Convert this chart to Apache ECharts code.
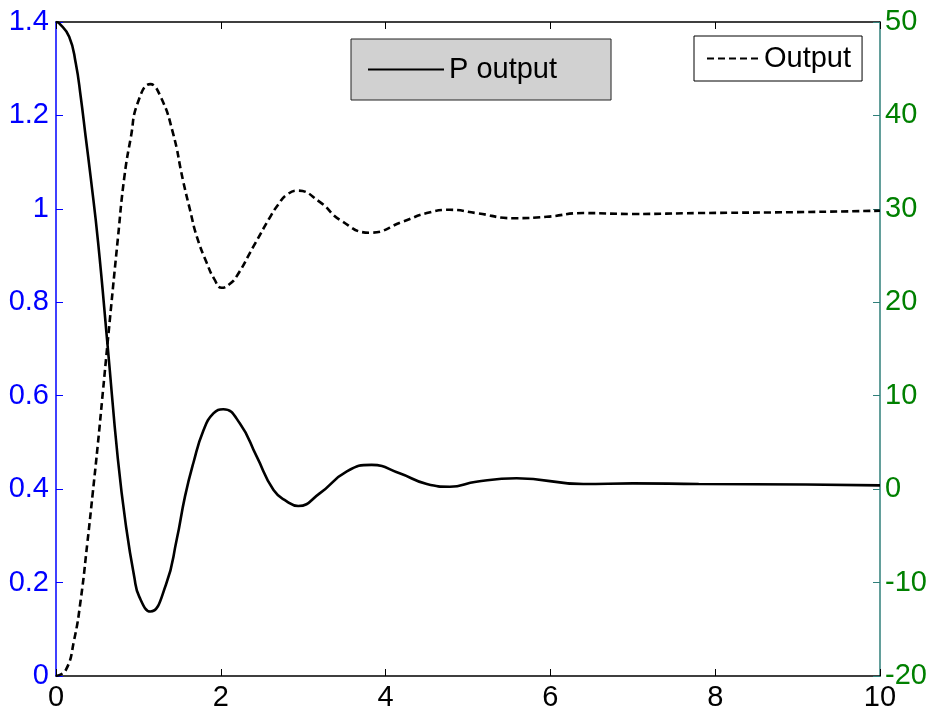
<!DOCTYPE html>
<html>
<head>
<meta charset="utf-8">
<script src="https://cdn.jsdelivr.net/npm/echarts@6/dist/echarts.min.js"></script>
<style>
  html, body { margin: 0; padding: 0; background: #fff; }
  #main { width: 932px; height: 715px; }
</style>
</head>
<body>
<div id="main"></div>
<script>
// time (s) and values
var outputTime = [0, 0.12, 0.22, 0.30, 0.38, 0.445, 0.51, 0.57, 0.63, 0.75, 0.83, 0.91, 0.99, 1.145, 1.27, 1.42, 1.54, 1.626, 1.71, 1.83, 1.92, 2.01, 2.10, 2.19, 2.395, 2.60, 2.70, 2.80, 2.93, 3.20, 3.45, 3.81, 4.215, 4.50, 4.78, 5.10, 5.55, 5.955, 6.40, 7.0, 7.8, 9.0, 10];
var outputVal  = [0, 0.013, 0.077, 0.163, 0.284, 0.39, 0.50, 0.61, 0.72, 0.935, 1.069, 1.155, 1.226, 1.267, 1.240, 1.162, 1.062, 0.998, 0.940, 0.884, 0.850, 0.831, 0.838, 0.855, 0.919, 0.983, 1.010, 1.030, 1.039, 1.015, 0.976, 0.949, 0.973, 0.991, 0.998, 0.991, 0.980, 0.983, 0.991, 0.989, 0.991, 0.993, 0.996];

var pTime = [0, 0.04, 0.16, 0.24, 0.30, 0.36, 0.42, 0.51, 0.63, 0.75, 0.85, 0.95, 1.01, 1.145, 1.335, 1.465, 1.565, 1.667, 1.79, 1.91, 2.03, 2.23, 2.435, 2.64, 2.80, 2.94, 3.20, 3.53, 3.83, 4.17, 4.50, 4.78, 5.10, 5.59, 6.40, 7.0, 7.8, 9.1, 10];
var pVal  = [50, 49.86, 48.43, 45.58, 42.0, 37.72, 33.44, 26.5, 15.0, 3.3, -4.0, -9.4, -11.5, -13.1, -10.2, -5.4, -0.8, 2.8, 6.3, 8.1, 8.55, 7.05, 3.5, -0.1, -1.3, -1.8, -0.45, 1.9, 2.6, 1.7, 0.55, 0.26, 0.8, 1.16, 0.55, 0.62, 0.55, 0.5, 0.4];

var leftTicks  = { min: 0, max: 1.4, interval: 0.2 };
var rightTicks = { min: -20, max: 50, interval: 10 };
var xTicks     = { min: 0, max: 10, interval: 2 };

function pairs(xs, ys) {
    return xs.map(function (x, i) { return [x, ys[i]]; });
}

var font = 'Liberation Sans, Arial, sans-serif';
var chart = echarts.init(document.getElementById('main'));

var option = {
    backgroundColor: '#fff',
    animation: false,
    grid: { left: 56, right: 52, top: 22, bottom: 39 },
    legend: [
        {
            data: ['P output'],
            left: 351, top: 39,
            padding: [16, 54, 16, 16],
            backgroundColor: '#d1d1d1',
            borderColor: '#222', borderWidth: 1,
            itemWidth: 76, itemHeight: 14,
            itemStyle: { opacity: 0 },
            textStyle: { fontFamily: font, fontSize: 29, color: '#000', lineHeight: 29 }
        },
        {
            data: ['Output'],
            left: 694, top: 36,
            padding: [8, 11, 8, 12],
            backgroundColor: '#fff',
            borderColor: '#000', borderWidth: 1,
            itemWidth: 52, itemHeight: 14,
            itemStyle: { opacity: 0 },
            textStyle: { fontFamily: font, fontSize: 29, color: '#000', lineHeight: 29 }
        }
    ],
    xAxis: [
        {
            type: 'value', position: 'bottom',
            min: xTicks.min, max: xTicks.max, interval: xTicks.interval,
            axisLine: { onZero: false, lineStyle: { color: '#000', width: 1.5 } },
            axisTick: { inside: true, length: 7, lineStyle: { color: '#000' } },
            axisLabel: { fontFamily: font, fontSize: 29, color: '#000', margin: 7 },
            splitLine: { show: false }
        },
        {
            type: 'value', position: 'top',
            min: xTicks.min, max: xTicks.max, interval: xTicks.interval,
            axisLine: { onZero: false, lineStyle: { color: '#000', width: 1.5 } },
            axisTick: { inside: true, length: 7, lineStyle: { color: '#000' } },
            axisLabel: { show: false },
            splitLine: { show: false }
        }
    ],
    yAxis: [
        {
            type: 'value', position: 'left',
            min: leftTicks.min, max: leftTicks.max, interval: leftTicks.interval,
            axisLine: { show: true, onZero: false, lineStyle: { color: '#0000ff', width: 1.5 } },
            axisTick: { show: true, inside: true, length: 7, lineStyle: { color: '#0000ff' } },
            axisLabel: { fontFamily: font, fontSize: 29, color: '#0000ff', margin: 7 },
            splitLine: { show: false }
        },
        {
            type: 'value', position: 'right',
            min: rightTicks.min, max: rightTicks.max, interval: rightTicks.interval,
            axisLine: { show: true, onZero: false, lineStyle: { color: '#2f7f7a', width: 1.5 } },
            axisTick: { show: true, inside: true, length: 7, lineStyle: { color: '#2f7f7a' } },
            axisLabel: { fontFamily: font, fontSize: 29, color: '#008000', margin: 5 },
            splitLine: { show: false }
        }
    ],
    series: [
        {
            name: 'P output', type: 'line',
            xAxisIndex: 0, yAxisIndex: 1,
            data: pairs(pTime, pVal),
            smooth: 0.5, symbol: 'none',
            lineStyle: { color: '#000', width: 2.6, type: 'solid' },
            itemStyle: { color: '#000' }
        },
        {
            name: 'Output', type: 'line',
            xAxisIndex: 0, yAxisIndex: 0,
            data: pairs(outputTime, outputVal),
            smooth: 0.5, symbol: 'none',
            lineStyle: { color: '#000', width: 2.6, type: [7, 4] },
            itemStyle: { color: '#000' }
        }
    ]
};

chart.setOption(option);
window.onresize = chart.resize;
</script>
</body>
</html>
